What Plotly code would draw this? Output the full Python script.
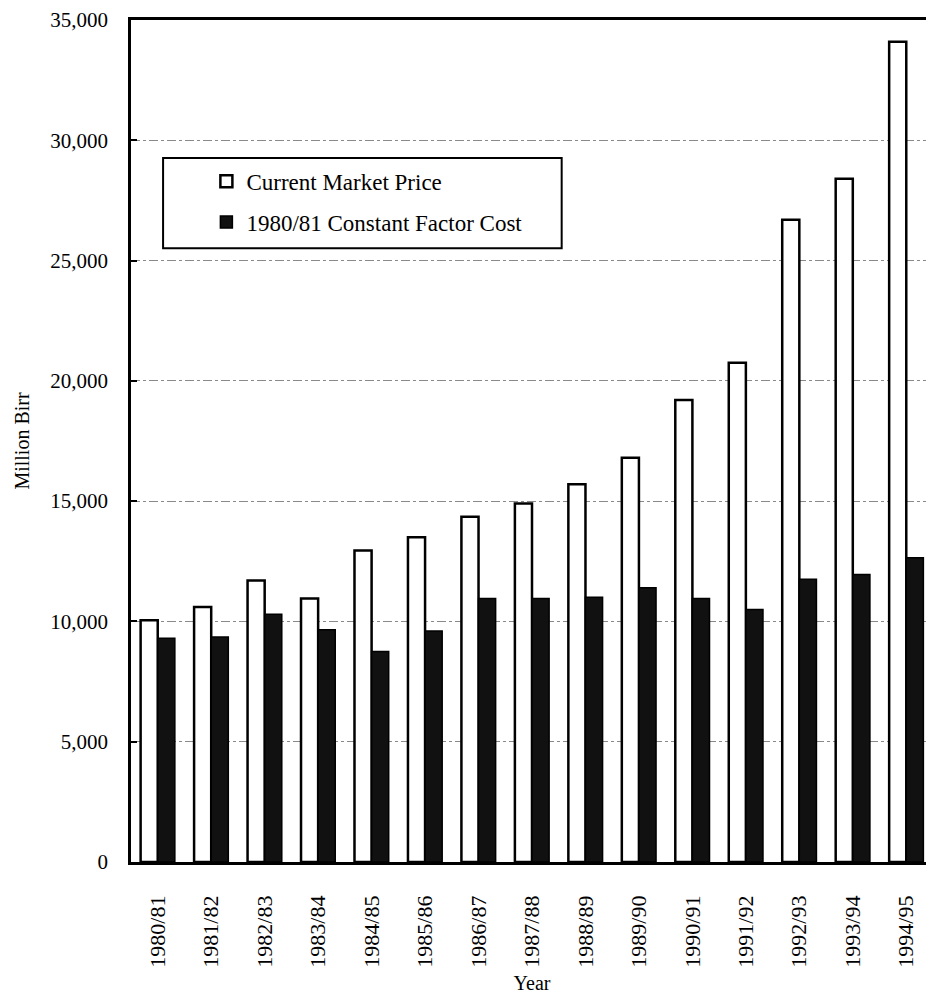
import plotly.graph_objects as go

years = ["1980/81", "1981/82", "1982/83", "1983/84", "1984/85", "1985/86", "1986/87",
         "1987/88", "1988/89", "1989/90", "1990/91", "1991/92", "1992/93", "1993/94", "1994/95"]
current_market_price = [10050, 10600, 11700, 10950, 12950, 13500, 14350,
                        14900, 15700, 16800, 19200, 20750, 26700, 28400, 34100]
constant_factor_cost = [9300, 9350, 10300, 9650, 8750, 9600, 10950,
                        10950, 11000, 11400, 10950, 10500, 11750, 11950, 12650]
y_ticks = [0, 5000, 10000, 15000, 20000, 25000, 30000, 35000]
y_tick_labels = ["0", "5,000", "10,000", "15,000", "20,000", "25,000", "30,000", "35,000"]

SERIF = "Liberation Serif, Times New Roman, serif"

fig = go.Figure()
fig.add_trace(go.Bar(
    x=years, y=current_market_price, name="Current Market Price",
    marker=dict(color="white", line=dict(color="black", width=2.5)),
    legendgroup="a",
))
fig.add_trace(go.Bar(
    x=years, y=constant_factor_cost, name="1980/81 Constant Factor Cost",
    marker=dict(color="#111111", line=dict(color="black", width=1.5)),
    legendgroup="b",
))

fig.update_layout(
    width=926, height=986,
    margin=dict(l=123, r=1, t=12, b=132, autoexpand=False),
    paper_bgcolor="white", plot_bgcolor="white",
    barmode="group", bargap=0.36, bargroupgap=0,
    font=dict(family=SERIF, color="black", size=20),
    showlegend=True,
    legend=dict(
        x=0.094, y=0.834, xanchor="left", yanchor="top",
        bgcolor="rgba(0,0,0,0)", borderwidth=0,
        font=dict(family=SERIF, size=23, color="black"),
        tracegroupgap=8, traceorder="grouped",
    ),
    shapes=[dict(
        type="rect", xref="paper", yref="paper",
        x0=0.04, x1=0.537, y0=0.729, y1=0.836,
        line=dict(color="black", width=2), fillcolor="white", layer="above",
    )],
)

fig.update_xaxes(
    type="category", automargin=False,
    showline=True, linecolor="black", linewidth=2.5, mirror=True,
    ticks="", tickangle=-90,
    tickfont=dict(family=SERIF, size=22, color="black"),
    ticklabelstandoff=22,
    title=dict(text="Year", font=dict(family=SERIF, size=20, color="black"), standoff=15),
    showgrid=False,
)
fig.update_yaxes(
    range=[0, 35000], automargin=False,
    tickvals=y_ticks, ticktext=y_tick_labels,
    showline=True, linecolor="black", linewidth=2.5, mirror=True,
    ticks="inside", ticklen=6, tickwidth=1.5, tickcolor="black",
    tickfont=dict(family=SERIF, size=21, color="black"),
    ticklabelstandoff=16,
    showgrid=True, gridcolor="#8a8a8a", gridwidth=1, griddash="dashdot",
    zeroline=False,
    title=dict(text="Million Birr", font=dict(family=SERIF, size=20, color="black"), standoff=16),
)

fig.write_html("out.html")
